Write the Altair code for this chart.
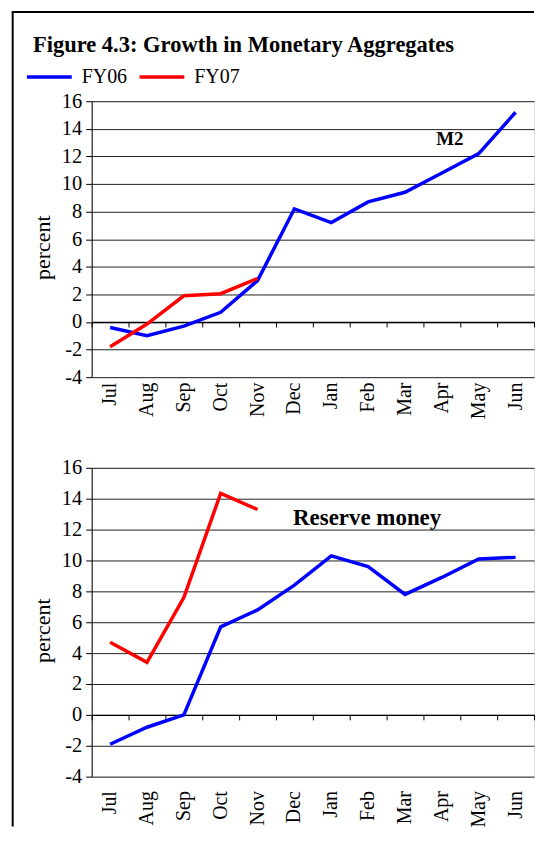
import altair as alt
import pandas as pd

months = ["Jul", "Aug", "Sep", "Oct", "Nov", "Dec", "Jan", "Feb", "Mar", "Apr", "May", "Jun"]
series = ["FY06", "FY07"]
colors = ["#0000FF", "#FF0000"]

m2_fy06 = [-0.4, -1.0, -0.3, 0.7, 3.0, 8.2, 7.2, 8.7, 9.4, 10.8, 12.2, 15.2]
m2_fy07 = [-1.8, -0.15, 1.9, 2.05, 3.15]
rm_fy06 = [-1.9, -0.8, 0.0, 5.7, 6.8, 8.4, 10.3, 9.6, 7.8, 8.9, 10.1, 10.2]
rm_fy07 = [4.7, 3.4, 7.6, 14.35, 13.3]

y_ticks = [-4, -2, 0, 2, 4, 6, 8, 10, 12, 14, 16]
y_domain = [-4, 16]

title_text = "Figure 4.3: Growth in Monetary Aggregates"
m2_label = {"month": ["Apr"], "value": [13.25], "text": ["M2"]}
rm_label = {"month": ["Feb"], "value": [12.75], "text": ["Reserve money"]}

SERIF = "Liberation Serif"
W = 444
H_TOP = 277
H_BOT = 310


def make_df(fy06, fy07):
    rows = []
    for m, v in zip(months, fy06):
        rows.append({"month": m, "value": v, "series": "FY06"})
    for m, v in zip(months, fy07):
        rows.append({"month": m, "value": v, "series": "FY07"})
    return pd.DataFrame(rows)


def panel(df, label, h, label_size, label_dx, label_pad, extras=None):
    xscale = alt.Scale(type="band", paddingInner=0, paddingOuter=0, domain=months)
    yscale = alt.Scale(domain=y_domain, nice=False, zero=False)
    lab_x = alt.X(
        "month:N", sort=months, scale=xscale, bandPosition=0.5,
        axis=alt.Axis(title=None, orient="bottom", labelAngle=-90, ticks=False, domain=False,
                      grid=False, labelPadding=label_pad, labelFont=SERIF, labelFontSize=20,
                      labelColor="black"),
    )
    tick_x = alt.X(
        "month:N", sort=months, scale=xscale, bandPosition=0.5,
        axis=alt.Axis(title=None, orient="bottom", labels=False, ticks=True, tickBand="extent",
                      tickSize=5, tickColor="black", domain=True, domainColor="black",
                      domainWidth=1.2, grid=False, offset=-(h * 4.0 / 20.0)),
    )
    y_axis = alt.Axis(values=y_ticks, labelExpr="datum.value + ''",
                      title="percent", titleFont=SERIF, titleFontSize=22,
                      titleFontWeight="normal", titleColor="black", titlePadding=7,
                      titleY=h / 2.0 + 8,
                      labelFont=SERIF, labelFontSize=20.5, labelColor="black", labelPadding=4,
                      tickSize=6, tickColor="black", domainColor="black", grid=True,
                      gridColor="#222222", gridWidth=1)
    lines = alt.Chart(df).mark_line(strokeWidth=3.5).encode(
        x=lab_x,
        y=alt.Y("value:Q", scale=yscale, axis=y_axis),
        color=alt.Color(
            "series:N", scale=alt.Scale(domain=series, range=colors),
            legend=alt.Legend(orient="none", legendX=-67, legendY=-49, direction="horizontal",
                              title=None, symbolType="stroke", symbolSize=2025,
                              symbolStrokeWidth=3.5, labelFont=SERIF, labelFontSize=20,
                              labelColor="black", labelOffset=8, columnPadding=5, padding=0),
        ),
        detail="series:N",
    )
    lab = alt.Chart(pd.DataFrame(label)).mark_text(
        font=SERIF, fontSize=label_size, fontWeight="bold", color="black",
        align="center", baseline="middle", dx=label_dx,
    ).encode(
        x=tick_x,
        y=alt.Y("value:Q", scale=yscale, axis=y_axis),
        text="text:N",
    )
    layers = (extras or []) + [lines, lab]
    return alt.layer(*layers).resolve_axis(x="independent").properties(width=W, height=h)


one = pd.DataFrame({"k": [0]})
# invisible spacer fixing the top edge of the drawing
spacer = alt.Chart(one).mark_rule(color="white", strokeWidth=1, opacity=0).encode(
    x=alt.value(-60), x2=alt.value(-20), y=alt.value(-91.5)
)
frame_left = alt.Chart(one).mark_rule(color="black", strokeWidth=2).encode(
    x=alt.value(-79.3), y=alt.value(-89.5), y2=alt.value(728)
)
frame_top = alt.Chart(one).mark_rule(color="black", strokeWidth=2).encode(
    x=alt.value(-80.3), x2=alt.value(444), y=alt.value(-89.5)
)
title = alt.Chart(one).mark_text(
    font=SERIF, fontSize=22.6, fontWeight="bold", color="black", align="left",
    baseline="alphabetic",
).encode(x=alt.value(-59), y=alt.value(-49), text=alt.value(title_text))

top = panel(make_df(m2_fy06, m2_fy07), m2_label, H_TOP, 19, 8, 5,
            extras=[spacer, frame_left, frame_top, title])
bottom = panel(make_df(rm_fy06, rm_fy07), rm_label, H_BOT, 23, -1, 14)

chart = (
    alt.vconcat(top, bottom, spacing=91, bounds="flush")
    .resolve_scale(x="independent", y="independent", color="shared")
    .properties(padding={"left": 2, "top": 0, "right": 0, "bottom": 0})
    .configure_view(stroke="#333333", strokeWidth=1.2)
    .configure(background="white")
)

chart.save("out.html", embed_options={"renderer": "svg", "actions": False})
